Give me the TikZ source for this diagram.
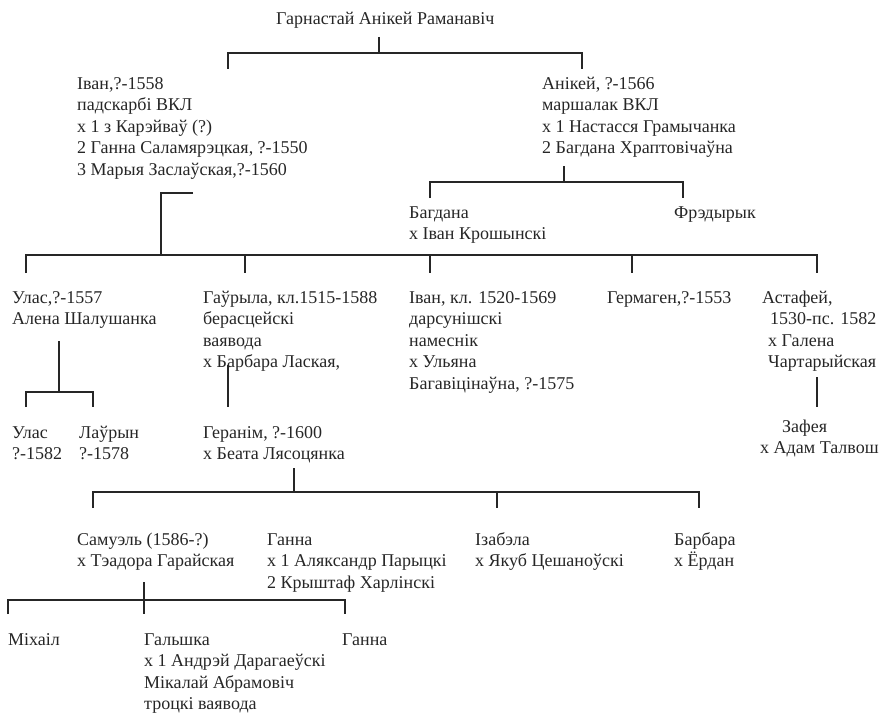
\documentclass[tikz,border=0pt]{standalone}
\usepackage{fontspec}
\setmainfont{Liberation Serif}
\newcommand{\fs}{\fontsize{18}{21.5}\selectfont}
\newcommand{\tl}[1]{\begin{tabular}[t]{@{}l@{}}#1\end{tabular}}
\tikzset{
  person/.style={anchor=base west, inner sep=0pt, font=\fs, text=black!85},
  link/.style={draw=black!85, line width=1.1pt}
}
\begin{document}
\begin{tikzpicture}[x=1pt,y=-1pt]
\useasboundingbox (0,0) rectangle (883,717);
% people
\node[person] (root) at (276,25) {Гарнастай Анікей Раманавіч};
\node[person] (ivan) at (77,89) {\tl{Іван,?-1558\\падскарбі ВКЛ\\х 1 з Карэйваў (?)\\2 Ганна Саламярэцкая, ?-1550\\3 Марыя Заслаўская,?-1560}};
\node[person] (anikey) at (542,89) {\tl{Анікей, ?-1566\\маршалак ВКЛ\\х 1 Настасся Грамычанка\\2 Багдана Храптовічаўна}};
\node[person] (bahdana) at (409,218) {\tl{Багдана\\х Іван Крошынскі}};
\node[person] (fredyryk) at (674,218) {Фрэдырык};
\node[person] (ulas) at (12,303) {\tl{Улас,?-1557\\Алена Шалушанка}};
\node[person] (haurila) at (203,303) {\tl{Гаўрыла, кл.1515-1588\\берасцейскі\\ваявода\\х Барбара Лаская,}};
\node[person] (ivan2) at (409,303) {\tl{Іван, кл. 1520-1569\\дарсунішскі\\намеснік\\х Ульяна\\Багавіцінаўна, ?-1575}};
\node[person] (hermahen) at (607,303) {Гермаген,?-1553};
\node[person] (astafey) at (762,303) {\tl{Астафей,\\\hspace{8pt}1530-пс. 1582\\\hspace{6pt}х Галена\\\hspace{6pt}Чартарыйская}};
\node[person] (ulas2) at (12,438) {\tl{Улас\\?-1582}};
\node[person] (laurin) at (79,438) {\tl{Лаўрын\\?-1578}};
\node[person] (heranim) at (203,438) {\tl{Геранім, ?-1600\\х Беата Лясоцянка}};
\node[person] (zafeya) at (760,432) {\tl{\hspace{22pt}Зафея\\х Адам Талвош}};
\node[person] (samuel) at (77,545) {\tl{Самуэль (1586-?)\\х Тэадора Гарайская}};
\node[person] (hanna) at (267,545) {\tl{Ганна\\х 1 Аляксандр Парыцкі\\2 Крыштаф Харлінскі}};
\node[person] (izabela) at (475,545) {\tl{Ізабэла\\х Якуб Цешаноўскі}};
\node[person] (barbara) at (674,545) {\tl{Барбара\\х Ёрдан}};
\node[person] (mikhail) at (8,645) {Міхаіл};
\node[person] (halshka) at (144,645) {\tl{Гальшка\\х 1 Андрэй Дарагаеўскі\\Мікалай Абрамовіч\\троцкі ваявода}};
\node[person] (hanna2) at (342,645) {Ганна};
% connectors
\coordinate (r0) at (379,37);
\coordinate (r1) at (379,53);
\draw[link] (r0) -- (r1);
\draw[link] (228,69) -- (228,53) -- (582,53) -- (582,69);
\coordinate (i0) at (193,193);
\draw[link] (i0) -- (161,193) -- (161,255);
\draw[link] (26,273) -- (26,255) -- (817,255) -- (817,273);
\foreach \x in {245,430,632} \draw[link] (\x,255) -- (\x,273);
\draw[link] (564,166) -- (564,182);
\draw[link] (430,198) -- (430,182) -- (683,182) -- (683,198);
\draw[link] (59,341) -- (59,392);
\draw[link] (26,407) -- (26,392) -- (93,392) -- (93,407);
\draw[link] (228,365) -- (228,407);
\draw[link] (817,377) -- (817,407);
\draw[link] (294,468) -- (294,492);
\draw[link] (93,508) -- (93,492) -- (699,492) -- (699,508);
\draw[link] (497,492) -- (497,508);
\draw[link] (144,582) -- (144,614);
\draw[link] (8,614) -- (8,600) -- (345,600) -- (345,614);
\end{tikzpicture}
\end{document}
